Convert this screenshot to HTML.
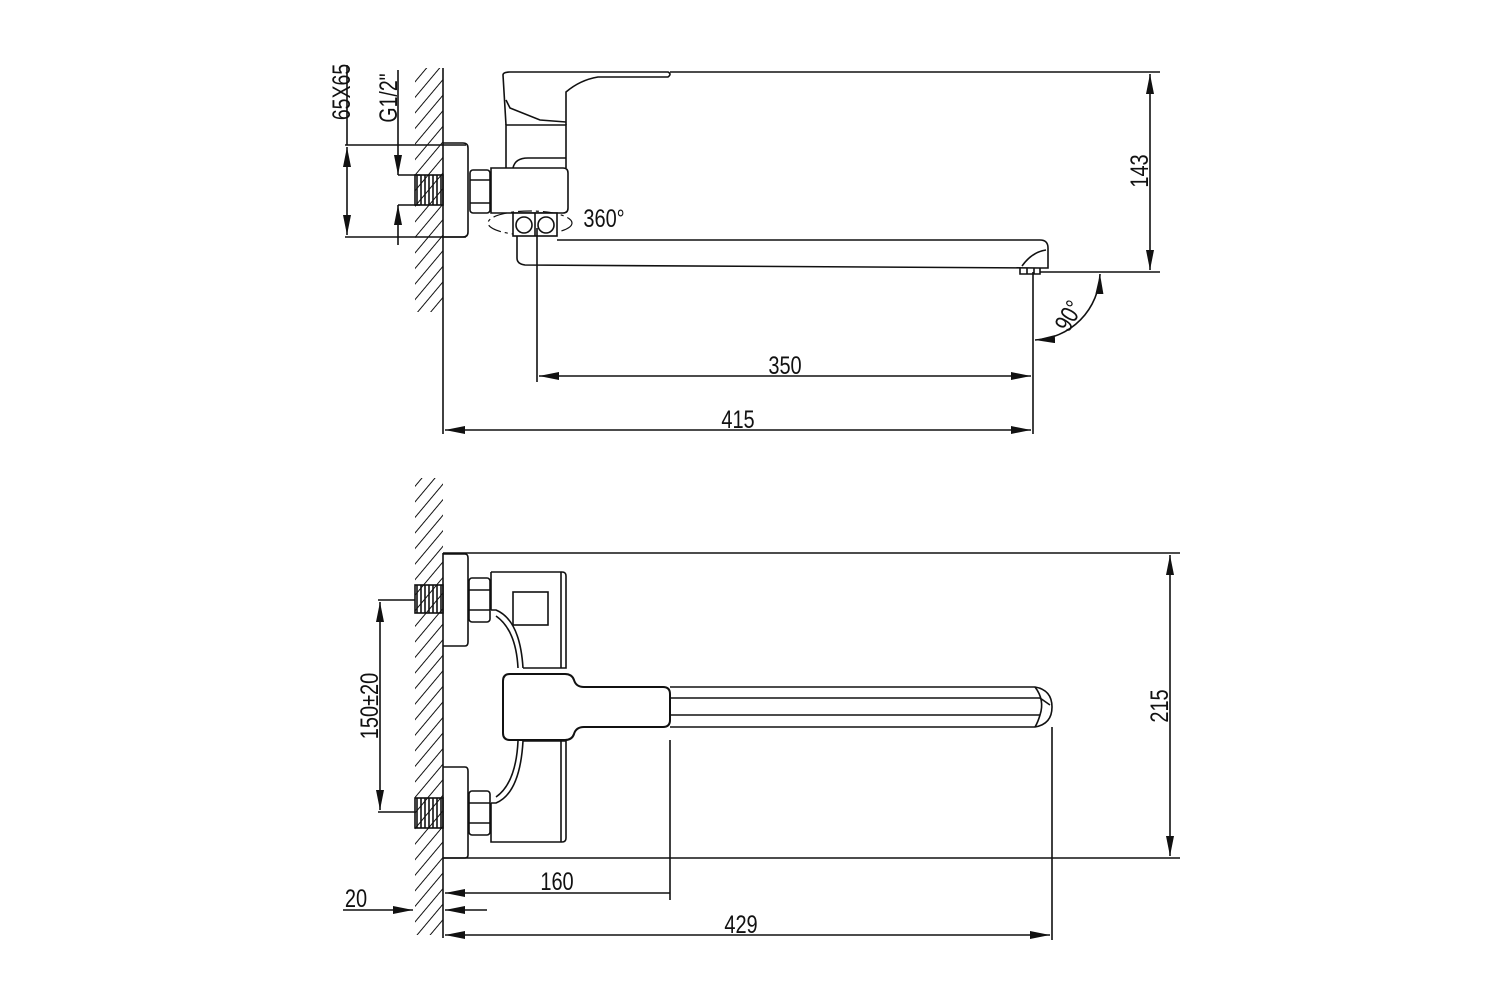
<!DOCTYPE html>
<html><head><meta charset="utf-8"><style>
html,body{margin:0;padding:0;background:#fff;}
svg{display:block;}
text{font-family:"Liberation Sans",sans-serif;font-size:25px;fill:#111;text-anchor:middle;}
</style></head><body>
<svg width="1500" height="1000" viewBox="0 0 1500 1000" xmlns="http://www.w3.org/2000/svg">
<defs>
<marker id="a" viewBox="0 0 20 8" refX="20" refY="4" markerWidth="20" markerHeight="8" orient="auto-start-reverse" markerUnits="userSpaceOnUse"><path d="M0,0 L20,4 L0,8 z" fill="#111"/></marker>
<pattern id="h" width="10" height="10" patternUnits="userSpaceOnUse" patternTransform="rotate(-50)"><line x1="0" y1="0" x2="10" y2="0" stroke="#111" stroke-width="2"/></pattern>
<pattern id="thr" width="4" height="10" patternUnits="userSpaceOnUse"><line x1="1" y1="0" x2="1" y2="10" stroke="#111" stroke-width="1.6"/></pattern>
</defs>
<g stroke="#111" fill="none" stroke-width="1.6">
<!-- TOP VIEW -->
<rect x="415" y="68" width="28" height="244" fill="url(#h)" stroke="none"/>
<line x1="443" y1="68" x2="443" y2="434"/>
<line x1="345" y1="145" x2="466" y2="145"/>
<line x1="345" y1="237" x2="466" y2="237"/>
<line x1="347" y1="65" x2="347" y2="145"/>
<line x1="347" y1="147" x2="347" y2="235" marker-start="url(#a)" marker-end="url(#a)"/>
<line x1="398" y1="70" x2="398" y2="175" marker-end="url(#a)"/>
<line x1="398" y1="245" x2="398" y2="205" marker-end="url(#a)"/>
<line x1="398" y1="175" x2="420" y2="175"/>
<line x1="398" y1="205" x2="420" y2="205"/>
<rect x="415" y="175" width="28" height="30" fill="url(#thr)"/>
<path d="M443,143 H463 Q468,143 468,148 V232 Q468,237 463,237 H443"/>
<rect x="470" y="170" width="20" height="43" rx="3"/>
<line x1="470" y1="180" x2="490" y2="180"/><line x1="470" y1="203" x2="490" y2="203"/>
<path d="M491,168 H563 Q568,168 568,173 V208 Q568,213 563,213 H491 Z"/>
<path d="M506,168 V125 H566 V168"/>
<path d="M513,168 Q515,158 528,158 H566"/>
<path d="M503,75 Q503,72 510,72 H668 Q672,74 668,77 H598 Q580,80 566,92 L566,125 M506,125 L503,75"/>
<path d="M506,100 L510,108 L540,120 L566,122"/>
<ellipse cx="530" cy="223" rx="42" ry="12" stroke-dasharray="14,4,3,4" stroke-width="1.2"/>
<rect x="513" y="213" width="44" height="23" fill="#fff"/>
<circle cx="524" cy="225" r="8"/><circle cx="546" cy="225" r="8"/>
<line x1="535" y1="213" x2="535" y2="236"/>
<path d="M517,236 V258 Q517,264 525,265 L1040,268 H1048 V248 Q1048,240 1040,240 H557"/>
<path d="M1020,268 V274 H1040 V268"/>
<line x1="1027" y1="268" x2="1027" y2="274"/><line x1="1034" y1="268" x2="1034" y2="274"/>
<path d="M1022,266 Q1032,252 1046,250"/>
<line x1="670" y1="72" x2="1160" y2="72"/>
<line x1="1040" y1="272" x2="1160" y2="272"/>
<line x1="1150" y1="74" x2="1150" y2="270" marker-start="url(#a)" marker-end="url(#a)"/>
<line x1="537" y1="228" x2="537" y2="382"/>
<line x1="1033" y1="272" x2="1033" y2="434"/>
<line x1="539" y1="376" x2="1031" y2="376" marker-start="url(#a)" marker-end="url(#a)"/>
<line x1="445" y1="430" x2="1031" y2="430" marker-start="url(#a)" marker-end="url(#a)"/>
<path d="M1100,274 A68,68 0 0 1 1035,340" marker-start="url(#a)" marker-end="url(#a)"/>

<!-- BOTTOM VIEW -->
<rect x="415" y="478" width="28" height="457" fill="url(#h)" stroke="none"/>
<line x1="443" y1="553" x2="443" y2="938"/>
<line x1="443" y1="553" x2="1180" y2="553"/>
<line x1="443" y1="858" x2="1180" y2="858"/>
<line x1="1170" y1="555" x2="1170" y2="856" marker-start="url(#a)" marker-end="url(#a)"/>
<path d="M443,554 H465 Q468,554 468,558 V642 Q468,646 465,646 H443"/>
<path d="M443,767 H465 Q468,767 468,771 V855 Q468,858 465,858 H443"/>
<rect x="415" y="585" width="28" height="28" fill="url(#thr)"/>
<rect x="415" y="798" width="28" height="30" fill="url(#thr)"/>
<rect x="469" y="578" width="21" height="44" rx="3"/>
<line x1="469" y1="590" x2="490" y2="590"/><line x1="469" y1="610" x2="490" y2="610"/>
<rect x="469" y="791" width="21" height="44" rx="3"/>
<line x1="469" y1="803" x2="490" y2="803"/><line x1="469" y1="823" x2="490" y2="823"/>
<path d="M491,572 H562 Q566,572 566,576 V668 H523"/>
<line x1="561" y1="572" x2="561" y2="668"/>
<path d="M491,572 V610 M491,803 V842 H562 Q566,842 566,838 V741 H523"/>
<line x1="561" y1="741" x2="561" y2="842"/>
<rect x="513" y="592" width="35" height="33"/>
<path d="M491,610 H496 Q520,620 523,668 M496,616 Q516,630 518,668"/>
<path d="M491,803 H496 Q520,793 523,741 M496,797 Q516,783 518,741"/>
<path d="M510,674 H565 Q572,674 574,680 Q576,687 584,687 H663 Q670,687 670,694 V720 Q670,727 663,727 H584 Q576,727 574,734 Q572,740 565,740 H510 Q503,740 503,733 V681 Q503,674 510,674 Z" stroke-width="2"/>
<path d="M670,687 H1035 Q1052,690 1052,707 Q1052,724 1035,727 H670"/>
<line x1="670" y1="698" x2="1040" y2="698"/><line x1="670" y1="715" x2="1040" y2="715"/>
<path d="M1035,687 Q1045,700 1040,715 Q1038,722 1035,727 M1040,698 L1050,705"/>
<line x1="378" y1="600" x2="415" y2="600"/>
<line x1="378" y1="812" x2="415" y2="812"/>
<line x1="380" y1="602" x2="380" y2="810" marker-start="url(#a)" marker-end="url(#a)"/>
<line x1="670" y1="740" x2="670" y2="900"/>
<line x1="1052" y1="727" x2="1052" y2="940"/>
<line x1="445" y1="893" x2="670" y2="893" marker-start="url(#a)"/>
<line x1="445" y1="935" x2="1050" y2="935" marker-start="url(#a)" marker-end="url(#a)"/>
<line x1="343" y1="910" x2="413" y2="910" marker-end="url(#a)"/>
<line x1="487" y1="910" x2="445" y2="910" marker-end="url(#a)"/>
</g>
<g>
<text transform="translate(350,92) rotate(-90) scale(0.78,1)">65X65</text>
<text transform="translate(397,98) rotate(-90) scale(0.78,1)">G1/2"</text>
<text transform="translate(604,227) scale(0.8,1)" font-size="20">360°</text>
<text transform="translate(1148,171) rotate(-90) scale(0.8,1)">143</text>
<text transform="translate(785,374) scale(0.8,1)">350</text>
<text transform="translate(738,428) scale(0.8,1)">415</text>
<text transform="translate(1076,320) rotate(-60) scale(0.8,1)">90°</text>
<text transform="translate(1168,706) rotate(-90) scale(0.8,1)">215</text>
<text transform="translate(378,706) rotate(-90) scale(0.8,1)">150±20</text>
<text transform="translate(557,890) scale(0.8,1)">160</text>
<text transform="translate(741,933) scale(0.8,1)">429</text>
<text transform="translate(356,907) scale(0.8,1)">20</text>
</g>
</svg>
</body></html>
